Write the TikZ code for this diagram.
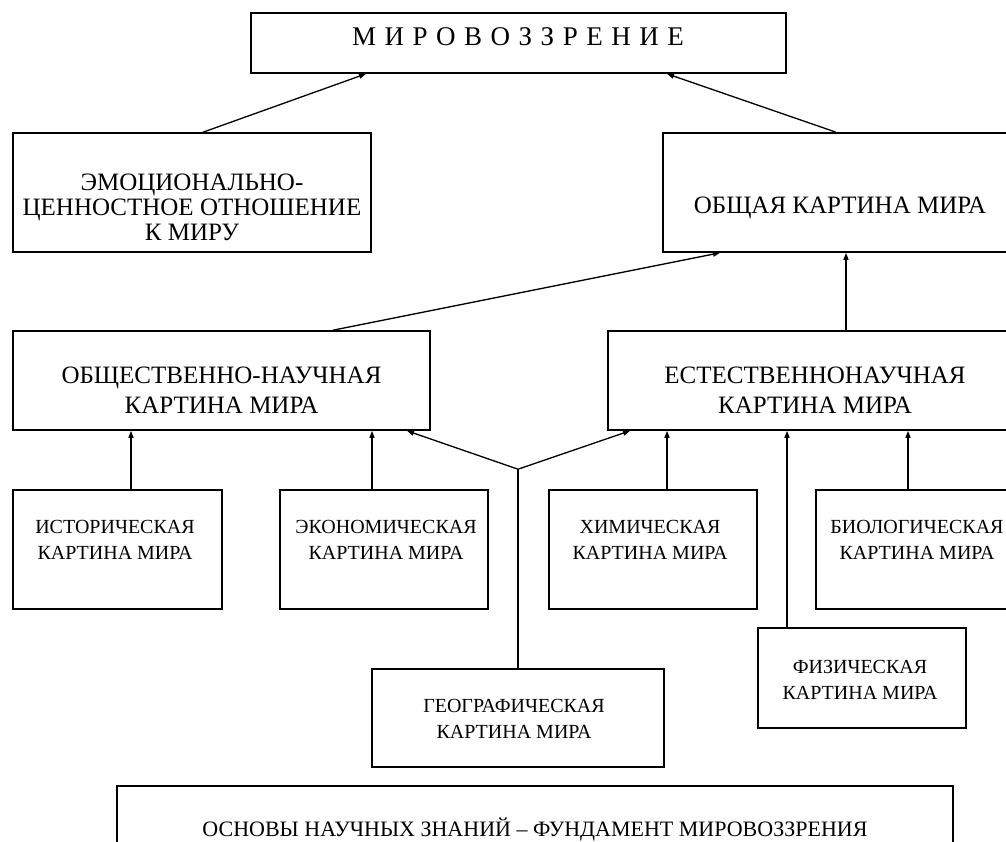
\documentclass[tikz,border=0pt]{standalone}
\usepackage{fontspec}
\setmainfont{Liberation Serif}
\usetikzlibrary{arrows.meta}

\tikzset{
    box/.style={draw, rectangle, line width=1.6pt, inner sep=0pt},
    bigtxt/.style={align=center, font=\fontsize{25}{30}\selectfont},
    smalltxt/.style={align=center, font=\fontsize{20}{26}\selectfont},
    link/.style={line width=1.3pt, -{Triangle[length=7pt,width=5pt]}},
}
\newcommand{\ls}{\kern8.5pt}

\begin{document}
\begin{tikzpicture}[x=1pt, y=-1pt]
    \useasboundingbox (0,0) rectangle (1006,841);
    \clip (0,0) rectangle (1006,841);

    % boxes
    \node [box, minimum width=535pt, minimum height=60pt] (world) at (518.5,43) {};
    \node [box, minimum width=358pt, minimum height=119pt] (emo) at (192,192.5) {};
    \node [box, minimum width=354pt, minimum height=119pt] (gen) at (840,192.5) {};
    \node [box, minimum width=417pt, minimum height=99pt] (soc) at (221.5,380.5) {};
    \node [box, minimum width=414pt, minimum height=99pt] (nat) at (815,380.5) {};
    \node [box, minimum width=209pt, minimum height=119pt] (hist) at (117.5,549.5) {};
    \node [box, minimum width=208pt, minimum height=119pt] (econ) at (384,549.5) {};
    \node [box, minimum width=208pt, minimum height=119pt] (chem) at (653,549.5) {};
    \node [box, minimum width=208pt, minimum height=119pt] (bio) at (920,549.5) {};
    \node [box, minimum width=208pt, minimum height=100pt] (phys) at (862,678) {};
    \node [box, minimum width=292pt, minimum height=98pt] (geo) at (518,718) {};
    \node [box, minimum width=836pt, minimum height=84pt] (base) at (535,828) {};

    % texts
    \node [font=\fontsize{27}{30}\selectfont] (world-t) at (518,37)
        {М\ls И\ls Р\ls О\ls В\ls О\ls З\ls З\ls Р\ls Е\ls Н\ls И\ls Е};
    \node [bigtxt, font=\fontsize{25}{25}\selectfont] (emo-t) at (192,207)
        {ЭМОЦИОНАЛЬНО-\\ЦЕННОСТНОЕ ОТНОШЕНИЕ\\К МИРУ};
    \node [bigtxt] (gen-t) at (840,208) {ОБЩАЯ КАРТИНА МИРА};
    \node [bigtxt] (soc-t) at (221.5,390) {ОБЩЕСТВЕННО-НАУЧНАЯ\\КАРТИНА МИРА};
    \node [bigtxt] (nat-t) at (815,390) {ЕСТЕСТВЕННОНАУЧНАЯ\\КАРТИНА МИРА};
    \node [smalltxt] (hist-t) at (115,540) {ИСТОРИЧЕСКАЯ\\КАРТИНА МИРА};
    \node [smalltxt] (econ-t) at (386,540) {ЭКОНОМИЧЕСКАЯ\\КАРТИНА МИРА};
    \node [smalltxt] (chem-t) at (650,540) {ХИМИЧЕСКАЯ\\КАРТИНА МИРА};
    \node [smalltxt] (bio-t) at (917,540) {БИОЛОГИЧЕСКАЯ\\КАРТИНА МИРА};
    \node [smalltxt] (phys-t) at (860,680) {ФИЗИЧЕСКАЯ\\КАРТИНА МИРА};
    \node [smalltxt] (geo-t) at (514,719) {ГЕОГРАФИЧЕСКАЯ\\КАРТИНА МИРА};
    \node [font=\fontsize{22}{26}\selectfont] (base-t) at (535,830)
        {ОСНОВЫ НАУЧНЫХ ЗНАНИЙ – ФУНДАМЕНТ МИРОВОЗЗРЕНИЯ};

    % connectors
    \coordinate (hist-in) at ([xshift=13.5pt]hist.north);
    \coordinate (econ-in) at ([xshift=-12pt]econ.north);
    \coordinate (chem-in) at ([xshift=14pt]chem.north);
    \coordinate (phys-in) at ([xshift=-75pt]phys.north);
    \coordinate (bio-in) at ([xshift=-12pt]bio.north);
    \coordinate (nat-in) at ([xshift=31pt]nat.north);
    \coordinate (fork) at ([yshift=199pt]geo.north);

    \draw [link] ([xshift=11pt]emo.north) -- ([xshift=-152.5pt]world.south);
    \draw [link] ([xshift=-4pt]gen.north) -- ([xshift=148.5pt]world.south);
    \draw [link] ([xshift=111.5pt]soc.north) -- ([xshift=-120pt]gen.south);
    \draw [link] (nat-in) -- (nat-in |- gen.south);
    \draw [link] (hist-in) -- (hist-in |- soc.south);
    \draw [link] (econ-in) -- (econ-in |- soc.south);
    \draw [line width=1.3pt] (geo.north) -- (fork);
    \draw [link] (fork) -- ([xshift=185.5pt]soc.south);
    \draw [link] (fork) -- ([xshift=-185pt]nat.south);
    \draw [link] (chem-in) -- (chem-in |- nat.south);
    \draw [link] (phys-in) -- (phys-in |- nat.south);
    \draw [link] (bio-in) -- (bio-in |- nat.south);
\end{tikzpicture}
\end{document}
